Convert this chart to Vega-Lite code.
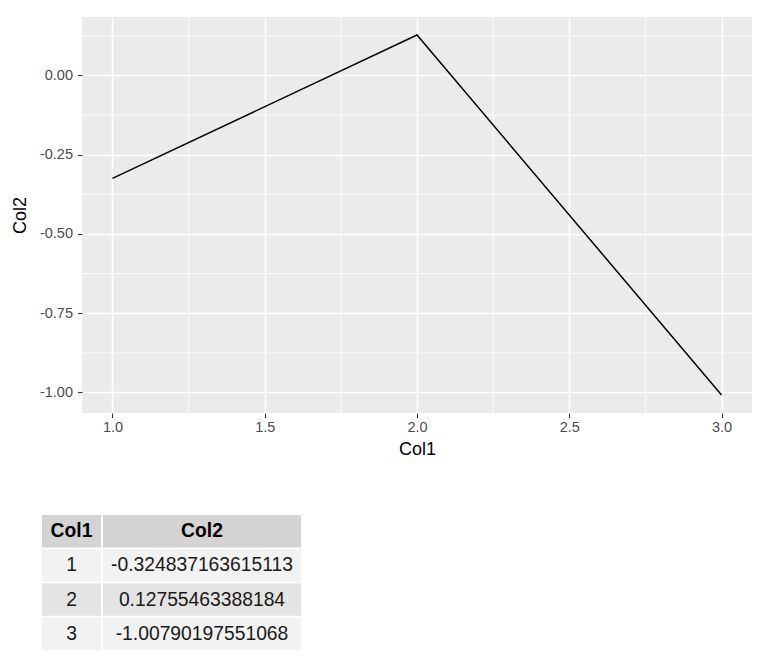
{
  "$schema": "https://vega.github.io/schema/vega-lite/v6.json",
  "background": "white",
  "padding": {"left": 11, "top": 16, "right": 0, "bottom": 0},
  "config": {"font": "Liberation Sans", "view": {"stroke": null}},
  "datasets": {
    "points": [
      {"Col1": 1, "Col2": -0.324837163615113},
      {"Col1": 2, "Col2": 0.12755463388184},
      {"Col1": 3, "Col2": -1.00790197551068}
    ],
    "minorX": [{"v": 1.25}, {"v": 1.75}, {"v": 2.25}, {"v": 2.75}],
    "minorY": [{"v": 0.125}, {"v": -0.125}, {"v": -0.375}, {"v": -0.625}, {"v": -0.875}]
  },
  "spacing": 57,
  "vconcat": [
    {
      "spacing": -32,
      "hconcat": [
        {
          "width": 1, "height": 396,
          "view": {"stroke": null},
          "data": {"values": [{}]},
          "mark": {"type": "rect", "opacity": 0},
          "encoding": {}
        },
        {
          "width": 670,
          "height": 396,
          "view": {"fill": "#ebebeb", "stroke": null},
          "layer": [
            {
              "data": {"name": "minorX"},
              "mark": {"type": "rule", "color": "white", "strokeWidth": 0.8},
              "encoding": {"x": {"field": "v", "type": "quantitative"}}
            },
            {
              "data": {"name": "minorY"},
              "mark": {"type": "rule", "color": "white", "strokeWidth": 0.8},
              "encoding": {"y": {"field": "v", "type": "quantitative"}}
            },
            {
              "data": {"name": "points"},
              "mark": {"type": "line", "color": "black", "strokeWidth": 1.5},
              "encoding": {
                "x": {
                  "field": "Col1", "type": "quantitative",
                  "scale": {"domain": [0.9, 3.1], "nice": false, "zero": false},
                  "axis": {
                    "title": "Col1", "values": [1, 1.5, 2, 2.5, 3], "format": ".1f",
                    "grid": true, "gridColor": "white", "gridWidth": 1.6,
                    "domain": false, "tickColor": "#333333", "tickSize": 4.5, "tickWidth": 1.1,
                    "labelColor": "#4d4d4d", "labelFontSize": 14.5, "labelPadding": 3,
                    "titleFontSize": 18, "titleFontWeight": "normal", "titleColor": "black", "titlePadding": 6
                  }
                },
                "y": {
                  "field": "Col2", "type": "quantitative",
                  "scale": {"domain": [-1.0647, 0.1843], "nice": false, "zero": false},
                  "axis": {
                    "title": "Col2", "values": [-1, -0.75, -0.5, -0.25, 0], "format": ".2f",
                    "labelExpr": "replace(datum.label, '\u2212', '-')",
                    "grid": true, "gridColor": "white", "gridWidth": 1.6,
                    "domain": false, "tickColor": "#333333", "tickSize": 4.5, "tickWidth": 1.1,
                    "labelColor": "#4d4d4d", "labelFontSize": 14.5, "labelPadding": 5,
                    "titleFontSize": 18, "titleFontWeight": "normal", "titleColor": "black", "titlePadding": 10
                  }
                }
              }
            }
          ]
        }
      ]
    },
    {
      "spacing": 2,
      "hconcat": [
        {
          "width": 59, "height": 135,
          "view": {"stroke": null},
          "layer": [
            {
              "data": {"name": "points"},
              "mark": {"type": "rect"},
              "encoding": {
                "y": {"field": "Col1", "type": "ordinal", "scale": {"domain": ["header", 1, 2, 3], "paddingInner": 0.05, "paddingOuter": 0}, "axis": null},
                "fill": {"condition": {"test": "datum.Col1 % 2 === 0", "value": "#e4e4e4"}, "value": "#f2f2f2"}
              }
            },
            {
              "data": {"values": [{"h": "Col1"}]},
              "mark": {"type": "rect", "color": "#d4d4d4"},
              "encoding": {"y": {"datum": "header", "type": "ordinal"}}
            },
            {
              "data": {"name": "points"},
              "mark": {"type": "text", "fontSize": 19.3, "color": "#1a1a1a"},
              "encoding": {
                "y": {"field": "Col1", "type": "ordinal"},
                "text": {"field": "Col1", "type": "nominal"}
              }
            },
            {
              "data": {"values": [{"h": "Col1"}]},
              "mark": {"type": "text", "fontSize": 19.3, "fontWeight": "bold", "color": "black"},
              "encoding": {
                "y": {"datum": "header", "type": "ordinal"},
                "text": {"field": "h", "type": "nominal"}
              }
            }
          ]
        },
        {
          "width": 198, "height": 135,
          "view": {"stroke": null},
          "layer": [
            {
              "data": {"name": "points"},
              "mark": {"type": "rect"},
              "encoding": {
                "y": {"field": "Col1", "type": "ordinal", "scale": {"domain": ["header", 1, 2, 3], "paddingInner": 0.05, "paddingOuter": 0}, "axis": null},
                "fill": {"condition": {"test": "datum.Col1 % 2 === 0", "value": "#e4e4e4"}, "value": "#f2f2f2"}
              }
            },
            {
              "data": {"values": [{"h": "Col2"}]},
              "mark": {"type": "rect", "color": "#d4d4d4"},
              "encoding": {"y": {"datum": "header", "type": "ordinal"}}
            },
            {
              "data": {"name": "points"},
              "mark": {"type": "text", "fontSize": 19.3, "color": "#1a1a1a"},
              "encoding": {
                "y": {"field": "Col1", "type": "ordinal"},
                "text": {"field": "Col2", "type": "nominal"}
              }
            },
            {
              "data": {"values": [{"h": "Col2"}]},
              "mark": {"type": "text", "fontSize": 19.3, "fontWeight": "bold", "color": "black"},
              "encoding": {
                "y": {"datum": "header", "type": "ordinal"},
                "text": {"field": "h", "type": "nominal"}
              }
            }
          ]
        }
      ]
    }
  ]
}
